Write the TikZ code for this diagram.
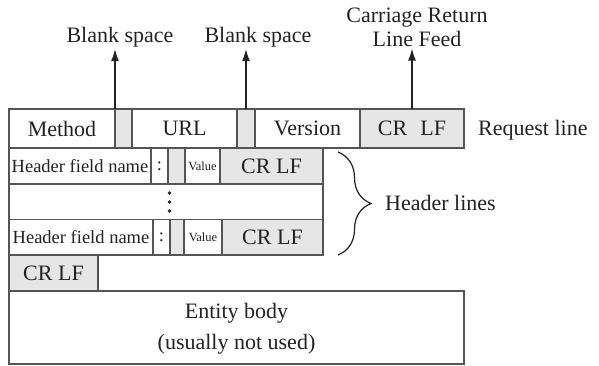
\documentclass[tikz,border=0pt]{standalone}
\usepackage{fontspec}
\setmainfont{Liberation Serif}
\usetikzlibrary{arrows.meta,decorations.pathreplacing}
\definecolor{edge}{HTML}{555555}
\definecolor{shade}{HTML}{E6E6E6}
\definecolor{ink}{HTML}{222222}
\newcommand\mkcell[7]{\node[#6, minimum width={(#4-#2)*1pt}, minimum height={(#5-#3)*1pt}] (#1) at ({(#2+#4)/2},{(#3+#5)/2}) {#7};}
\begin{document}
\begin{tikzpicture}[x=1pt,y=-1pt,
  every node/.style={text=ink, font=\fontsize{22}{24}\selectfont},
  cell/.style={draw=edge, line width=1.3pt, fill=white, inner sep=0pt, outer sep=0pt, rectangle},
  gcell/.style={cell, fill=shade},
  lbl/.style={inner sep=2pt, align=center},
  arr/.style={draw=ink, line width=1.2pt, -{Latex[length=12pt,width=8pt]}},
  small/.style={font=\fontsize{18.5}{20}\selectfont},
  tiny/.style={font=\fontsize{12.5}{14}\selectfont}]
\useasboundingbox (0,0) rectangle (599,366);
% request line
\mkcell{method}{9}{109}{115}{148}{cell}{Method}
\mkcell{gapa}{115}{109}{132}{148}{gcell}{}
\mkcell{url}{132}{109}{237}{148}{cell}{URL}
\mkcell{gapb}{237}{109}{255}{148}{gcell}{}
\mkcell{version}{255}{109}{360}{148}{cell}{Version}
\mkcell{crlfa}{360}{109}{464}{148}{gcell}{CR\hspace{0.6em}LF}
\node[anchor=west, inner sep=0pt] (reqline) at (478,130) {Request line};
% labels above
\node[lbl] (bsa) at (120,37) {Blank space};
\node[lbl] (bsb) at (258,37) {Blank space};
\node[lbl] (crlabel) at (417,27) {Carriage Return\\Line Feed};
\draw[arr] (gapa.north west) -- (gapa.north west |- bsa.south);
\draw[arr] (gapb.north) -- (gapb.north |- bsb.south);
\draw[arr] (crlfa.north) -- (crlfa.north |- crlabel.south);
% header row 1
\mkcell{hnamea}{9}{148}{151}{184}{cell,small}{Header field name}
\mkcell{hcolona}{151}{148}{168}{184}{cell,small}{:}
\mkcell{hspa}{168}{148}{185}{184}{gcell}{}
\mkcell{hvala}{185}{148}{220}{184}{cell,tiny}{Value}
\mkcell{hcrlfa}{220}{148}{323}{184}{gcell}{CR LF}
% header row 2
\mkcell{hdots}{9}{184}{323}{219.5}{cell}{}
\foreach \yy in {193,202,211} \fill[ink] (169.5,\yy) circle (1.9pt);
% header row 3
\mkcell{hnameb}{9}{219.5}{153}{255}{cell,small}{Header field name}
\mkcell{hcolonb}{153}{219.5}{170}{255}{cell,small}{:}
\mkcell{hspb}{170}{219.5}{184}{255}{gcell}{}
\mkcell{hvalb}{184}{219.5}{222}{255}{cell,tiny}{Value}
\mkcell{hcrlfb}{222}{219.5}{323}{255}{gcell}{CR LF}
% brace
\draw[draw=ink, line width=1.2pt, decorate, decoration={brace, amplitude=33pt}] (338,152) -- (338,255);
\node[anchor=west, inner sep=0pt] (hlines) at (385,203) {Header lines};
% blank line
\mkcell{crlfb}{9}{255}{98}{291}{gcell}{CR LF}
% entity body
\mkcell{entity}{9}{291}{464}{364}{cell}{}
\node[align=center, font=\fontsize{22}{31}\selectfont] (entitytext) at (236.5,329) {Entity body\\(usually not used)};
\end{tikzpicture}
\end{document}
